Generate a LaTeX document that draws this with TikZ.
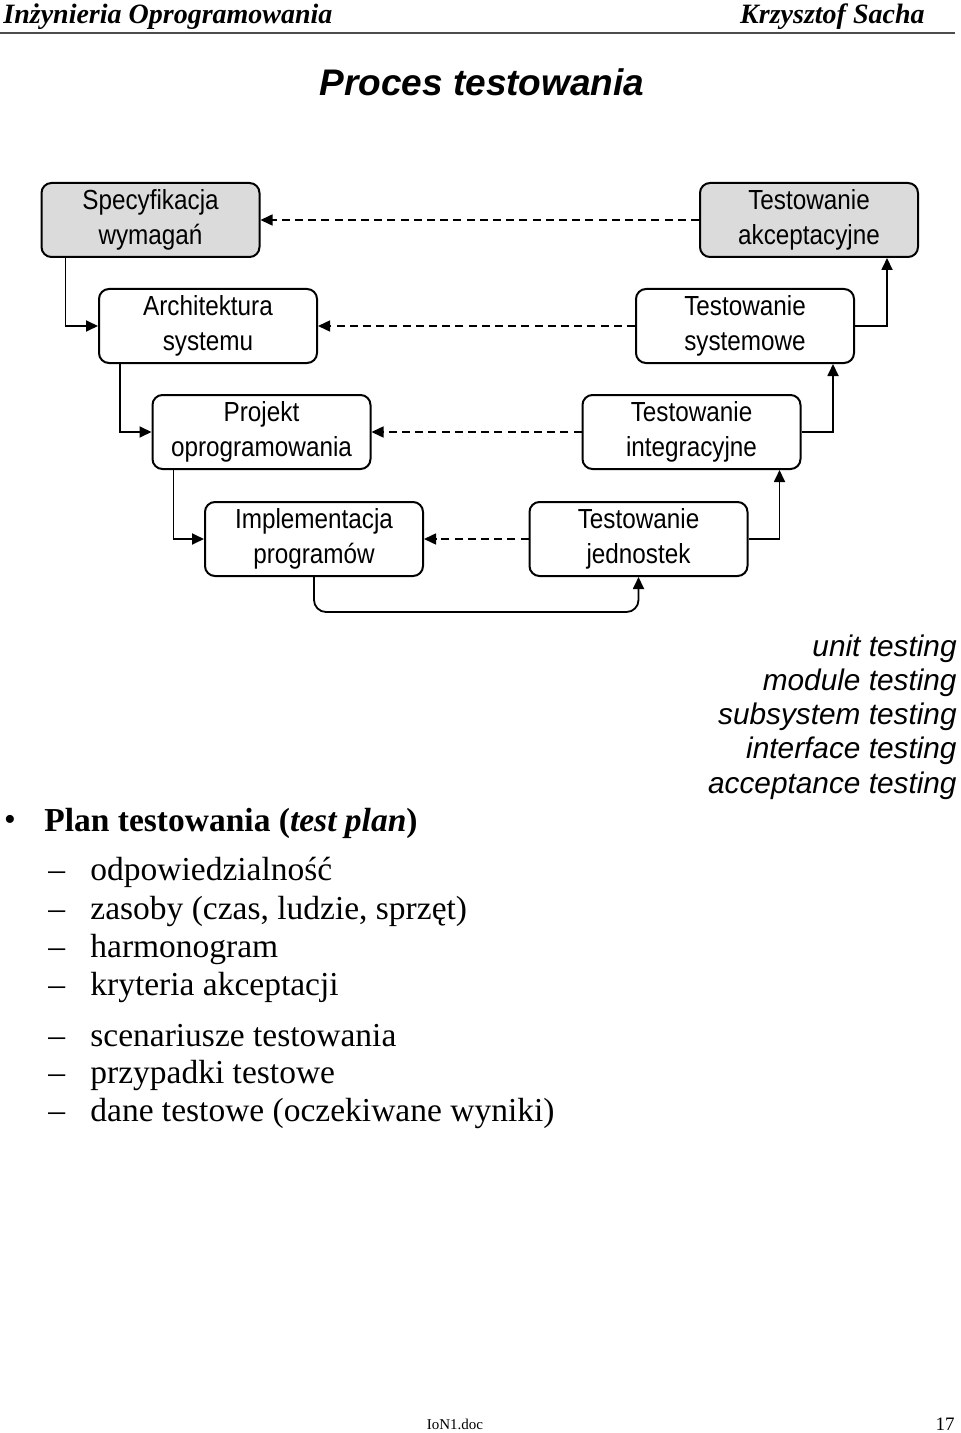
\documentclass[tikz,border=0pt]{standalone}
\usepackage{fontspec}
\setmainfont{Liberation Serif}
\setsansfont{Liberation Sans}
\newfontfamily\boxfont[FakeStretch=0.88]{Liberation Sans}
\usepackage{tikz}
\usetikzlibrary{positioning,calc,arrows.meta}

\begin{document}
\begin{tikzpicture}[x=0.5pt,y=-0.5pt,
    stage/.style={draw,line width=1pt,rounded corners=5pt,minimum width=109pt,minimum height=37pt,
      align=center,inner sep=0pt,font=\boxfont\fontsize{13.8}{17.5}\selectfont},
    endstage/.style={stage,fill=black!14},
    arr/.style={line width=0.9pt,-{Triangle[length=6pt,width=5.5pt]}},
    back/.style={line width=0.75pt,dash pattern=on 4pt off 2.6pt,-{Triangle[length=6pt,width=5.5pt]}},
    item/.style={anchor=west,inner sep=0pt,font=\fontsize{16.75}{20}\selectfont}]
    \useasboundingbox (0,0) rectangle (960,1433);

    % Header
    \node[anchor=base west,inner sep=0pt,font=\bfseries\itshape\fontsize{14}{16}\selectfont] (hleft) at (3,24) {Inżynieria Oprogramowania};
    \node[anchor=base east,inner sep=0pt,font=\bfseries\itshape\fontsize{14}{16}\selectfont] (hright) at (925,24) {Krzysztof Sacha};
    \coordinate (rl) at (0,33);
    \coordinate (rr) at (955,33);
    \draw[line width=1pt,black!70] (rl) -- (rr);

    \node[font=\sffamily\bfseries\itshape\fontsize{18.5}{22}\selectfont] (title) at (482,82) {Proces testowania};

    % V model, left side
    \node[endstage] (spec) at (150.5,220) {Specyfikacja\\wymagań};
    \node[stage] (arch) at (208,326) {Architektura\\systemu};
    \node[stage] (proj) at (261.5,432) {Projekt\\oprogramowania};
    \node[stage] (impl) at (314,539) {Implementacja\\programów};

    % V model, right side
    \node[stage] (jedn) at (638.5,539) {Testowanie\\jednostek};
    \node[stage] (integ) at (691.5,432) {Testowanie\\integracyjne};
    \node[stage] (sys) at (745,326) {Testowanie\\systemowe};
    \node[endstage] (akc) at (809,220) {Testowanie\\akceptacyjne};

    % going down
    \draw[arr] ([xshift=12.5pt]spec.south west) |- (arch.west);
    \draw[arr] ([xshift=11pt]arch.south west) |- (proj.west);
    \draw[arr] ([xshift=11pt]proj.south west) |- (impl.west);

    % bottom turn
    \coordinate (turn) at (476,612);
    \draw[arr,rounded corners=6pt] (impl.south) -- (impl.south |- turn) -- (jedn.south |- turn) -- (jedn.south);

    % going up
    \draw[arr] (jedn.east) -| ([xshift=-11pt]integ.south east);
    \draw[arr] (integ.east) -| ([xshift=-11pt]sys.south east);
    \draw[arr] (sys.east) -| ([xshift=-16pt]akc.south east);

    % checks against the design
    \draw[back] (akc.west) -- (spec.east);
    \draw[back] (sys.west) -- (arch.east);
    \draw[back] (integ.west) -- (proj.east);
    \draw[back] (jedn.west) -- (impl.east);

    % English names
    \node[anchor=east,align=right,inner sep=0pt,font=\sffamily\itshape\fontsize{14.9}{17.1}\selectfont] (names) at (957,717)
      {unit testing\\module testing\\subsystem testing\\interface testing\\acceptance testing};

    % Test plan
    \node[inner sep=0pt,font=\fontsize{16.75}{20}\selectfont] (dot) at (10,823) {\textbullet};
    \node[item,font=\bfseries\fontsize{16.75}{20}\selectfont] (plan) at (44,823) {Plan testowania (\textit{test plan})};
    \node[item] (p1) at (48,872) {\makebox[21pt][l]{--}odpowiedzialność};
    \node[item] (p2) at (48,911) {\makebox[21pt][l]{--}zasoby (czas, ludzie, sprzęt)};
    \node[item] (p3) at (48,949) {\makebox[21pt][l]{--}harmonogram};
    \node[item] (p4) at (48,987) {\makebox[21pt][l]{--}kryteria akceptacji};
    \node[item] (p5) at (48,1036) {\makebox[21pt][l]{--}scenariusze testowania};
    \node[item] (p6) at (48,1075) {\makebox[21pt][l]{--}przypadki testowe};
    \node[item] (p7) at (48,1113) {\makebox[21pt][l]{--}dane testowe (oczekiwane wyniki)};

    % Footer
    \node[font=\fontsize{7.5}{9}\selectfont] (file) at (455,1424) {IoN1.doc};
    \node[anchor=east,inner sep=0pt,font=\fontsize{9.5}{11}\selectfont] (page) at (955,1424) {17};
\end{tikzpicture}
\end{document}
